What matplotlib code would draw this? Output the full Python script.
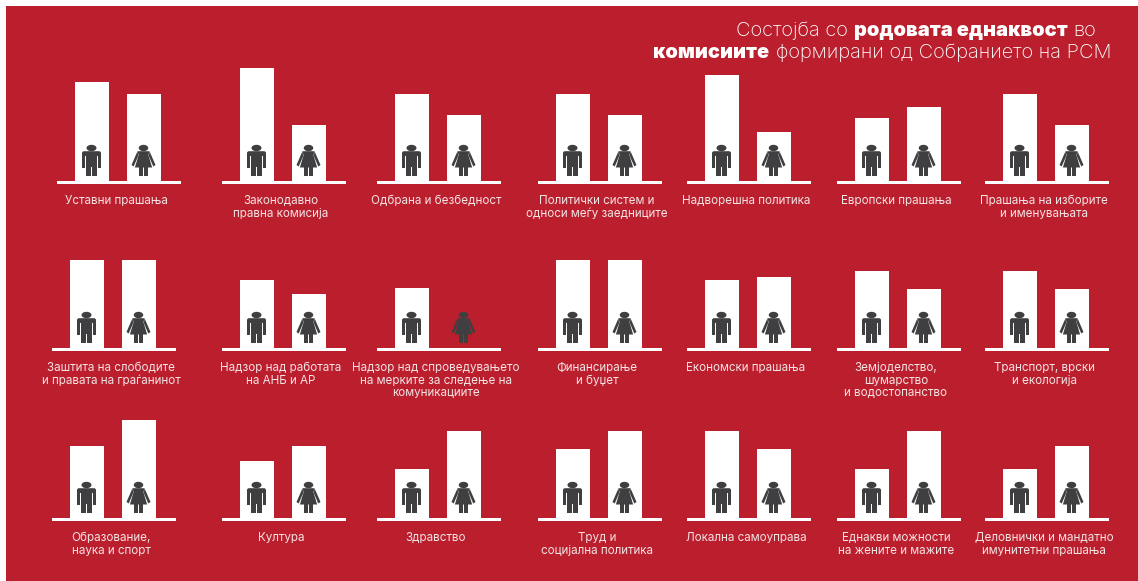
import matplotlib
matplotlib.use('Agg')
import matplotlib.pyplot as plt
from matplotlib.patches import Ellipse, Polygon, Rectangle, FancyBboxPatch

W, H = 1138, 581
RED = '#BB1E2D'
DARK = '#3F3F42'

# bar heights, one list per row of panels
men_row1 = [100, 114, 88, 88, 107, 64, 88]
women_row1 = [88, 57, 67, 67, 50, 75, 57]
men_row2 = [89, 69, 61, 89, 69, 78, 78]
women_row2 = [89, 55, 0, 89, 72, 60, 60]
men_row3 = [73, 58, 50, 70, 88, 50, 50]
women_row3 = [99, 73, 88, 88, 70, 88, 73]

labels_row1 = ['Уставни прашања', 'Законодавно\nправна комисија', 'Одбрана и безбедност',
               'Политички систем и\nодноси меѓу заедниците', 'Надворешна политика',
               'Европски прашања', 'Прашања на изборите\nи именувањата']
labels_row2 = ['Заштита на слободите\nи правата на граѓанинот', 'Надзор над работата\nна АНБ и АР',
               'Надзор над спроведувањето\nна мерките за следење на\nкомуникациите',
               'Финансирање\nи буџет', 'Економски прашања',
               'Земјоделство,\nшумарство\nи водостопанство', 'Транспорт, врски\nи екологија']
labels_row3 = ['Образование,\nнаука и спорт', 'Култура', 'Здравство', 'Труд и\nсоцијална политика',
               'Локална самоуправа', 'Еднакви можности\nна жените и мажите',
               'Деловнички и мандатно\nимунитетни прашања']

# left end of each baseline in pixels
starts_row1 = [57, 222, 377, 538, 687, 837, 985]
starts_row2 = [52, 222, 377, 538, 687, 837, 985]
starts_row3 = [52, 222, 377, 538, 687, 837, 985]

rows = [
    (182, starts_row1, men_row1, women_row1, labels_row1),
    (349, starts_row2, men_row2, women_row2, labels_row2),
    (519, starts_row3, men_row3, women_row3, labels_row3),
]

plt.rcParams['font.family'] = ['Inter', 'DejaVu Sans']

fig = plt.figure(figsize=(W / 100, H / 100), dpi=100, facecolor='white')
bg = fig.add_axes([6 / W, 0, (W - 6) / W, (H - 6) / H])
bg.set_facecolor(RED)
bg.set_xticks([])
bg.set_yticks([])
for s in bg.spines.values():
    s.set_visible(False)


def draw_man(ax, cx):
    ax.add_patch(Ellipse((cx, 34), 10, 6.4, color=DARK, lw=0))
    ax.add_patch(FancyBboxPatch((cx - 9.5, 26), 19, 4.8, boxstyle='round,pad=0,rounding_size=2', color=DARK, lw=0))
    ax.add_patch(Rectangle((cx - 5.3, 15), 10.6, 13, color=DARK, lw=0))
    ax.add_patch(Rectangle((cx - 9.5, 14), 3.4, 14, color=DARK, lw=0))
    ax.add_patch(Rectangle((cx + 6.1, 14), 3.4, 14, color=DARK, lw=0))
    ax.add_patch(Rectangle((cx - 5.3, 6), 4.6, 10, color=DARK, lw=0))
    ax.add_patch(Rectangle((cx + 0.7, 6), 4.6, 10, color=DARK, lw=0))


def draw_woman(ax, cx):
    ax.add_patch(Ellipse((cx, 34), 9.5, 6.4, color=DARK, lw=0))
    ax.add_patch(Polygon([(cx - 6, 30.8), (cx + 6, 30.8), (cx + 5, 27), (cx - 5, 27)], color=DARK, lw=0))
    ax.add_patch(Polygon([(cx - 4.6, 28), (cx + 4.6, 28), (cx + 8.6, 14.5), (cx - 8.6, 14.5)], color=DARK, lw=0))
    ax.add_patch(Polygon([(cx - 6, 30.8), (cx - 12, 17), (cx - 9.8, 15.5), (cx - 5.3, 26)], color=DARK, lw=0))
    ax.add_patch(Polygon([(cx + 6, 30.8), (cx + 12, 17), (cx + 9.8, 15.5), (cx + 5.3, 26)], color=DARK, lw=0))
    ax.add_patch(Rectangle((cx - 4.5, 6), 3.9, 10, color=DARK, lw=0))
    ax.add_patch(Rectangle((cx + 0.6, 6), 3.9, 10, color=DARK, lw=0))


for base, starts, men, women, labels in rows:
    for x0, m, f, lab in zip(starts, men, women, labels):
        ax = fig.add_axes([x0 / W, 1 - base / H, 124 / W, 120 / H])
        ax.patch.set_visible(False)
        ax.set_xlim(0, 124)
        ax.set_ylim(0, 120)
        ax.axis('off')
        ax.bar([34.5, 86.5], [m, f], width=34, color='white', lw=0)
        draw_man(ax, 34.5)
        draw_woman(ax, 86.5)
        # baseline
        ax.add_patch(Rectangle((0, -1.5), 124, 3, color='white', lw=0, clip_on=False))
        for i, line in enumerate(lab.split('\n')):
            fig.text((x0 + 59) / W, 1 - (base + 22 + i * 12.6) / H, line, color='#F3E3E3', fontsize=8.4,
                     ha='center', va='baseline')


# title, regular and bold pieces laid out from the right
def title_line(parts, right, y):
    r = fig.canvas.get_renderer()
    x = right
    for txt, weight in reversed(parts):
        t = fig.text(x / W, 1 - y / H, txt, color='white', fontsize=14.4, ha='right', va='baseline',
                     fontweight=weight)
        x -= t.get_window_extent(r).width + 6


title_line([('Состојба со', 'light'), ('родовата еднаквост', 'black'), ('во', 'light')], 1096, 36)
title_line([('комисиите', 'black'), ('формирани од Собранието на РСМ', 'light')], 1111, 58)

fig.savefig('out.png', dpi=100, facecolor='white')
